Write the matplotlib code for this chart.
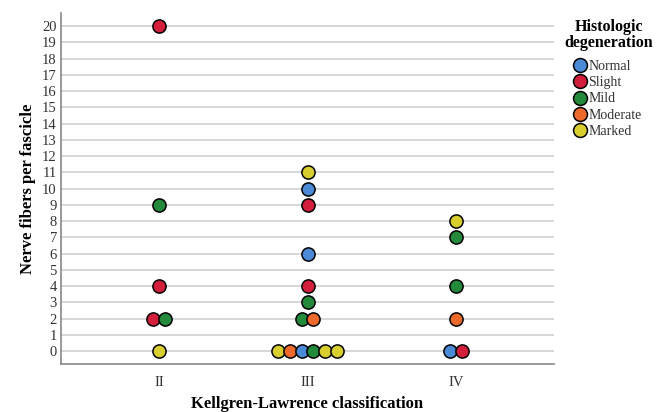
import matplotlib
matplotlib.use("Agg")
from matplotlib import pyplot as plt, ticker
from matplotlib.lines import Line2D

# Data
groups = ["II", "III", "IV"]
categories = ["Normal", "Slight", "Mild", "Moderate", "Marked"]
colors = ["#4a8ad6", "#d41f3c", "#238a3c", "#ee6a2c", "#d8cf2e"]

# one entry per point: group index, value, category index (left to right within a row)
point_group = [0, 0, 0, 0, 0, 0,
               1, 1, 1, 1, 1, 1, 1, 1, 1, 1, 1, 1, 1, 1,
               2, 2, 2, 2, 2, 2]
point_value = [20, 9, 4, 2, 2, 0,
               11, 10, 9, 6, 4, 3, 2, 2, 0, 0, 0, 0, 0, 0,
               8, 7, 4, 2, 0, 0]
point_cat = [1, 2, 1, 1, 2, 4,
             4, 0, 1, 0, 1, 2, 2, 3, 4, 3, 0, 2, 4, 4,
             4, 2, 2, 3, 0, 1]

plt.rcParams['font.family'] = ['Liberation Serif', 'DejaVu Serif']

fig = plt.figure(figsize=(6.66, 4.12), dpi=100)
ax = fig.add_axes([0.0916, 0.1165, 0.832 - 0.0916, 0.968 - 0.1165])

# Dodge points that share a row within a group
step = 0.079
rows = {}
for i, (g, v) in enumerate(zip(point_group, point_value)):
    rows.setdefault((g, v), []).append(i)
xs = [0.0] * len(point_value)
for (g, v), idx in rows.items():
    n = len(idx)
    for k, i in enumerate(idx):
        xs[i] = g + 1 + (k - (n - 1) / 2) * step

for i in range(len(point_value)):
    ax.scatter(xs[i], point_value[i], s=90, color=colors[point_cat[i]],
               edgecolors="black", linewidths=1.1, zorder=3)

ax.set_xlim(0.34, 3.66)
ax.set_ylim(-0.8, 20.8)
ax.set_xticks([1, 2, 3])
ax.set_xticklabels(groups)
ax.yaxis.set_major_locator(ticker.MultipleLocator(1))
ax.grid(True, axis='y', color="#d4d4d4", linewidth=1.3, zorder=0)
ax.set_axisbelow(True)
ax.tick_params(axis='both', length=0, labelsize=10.5, labelcolor="#333333")
ax.tick_params(axis='x', pad=8.5)
ax.tick_params(axis='y', pad=3)
for side in ["top", "right"]:
    ax.spines[side].set_visible(False)
for side in ["left", "bottom"]:
    ax.spines[side].set_color("#888888")
    ax.spines[side].set_linewidth(1.2)

ax.set_xlabel("Kellgren-Lawrence classification", fontsize=12, fontweight="bold", va="center")
ax.xaxis.set_label_coords(0.5, -0.114)
ax.set_ylabel("Nerve fibers per fascicle", fontsize=12, fontweight="bold", va="center")
ax.yaxis.set_label_coords(-0.066, 0.5)

# Legend: title as figure text, entries as a legend without title
fig.text(609 / 666, 1 - 35 / 412, "Histologic\ndegeneration", ha="center", va="center",
         fontsize=11.5, fontweight="bold", linespacing=1.05)
handles = [Line2D([], [], linestyle="none", marker="o", markersize=10,
                  markerfacecolor=c, markeredgecolor="black", markeredgewidth=1.1)
           for c in colors]
leg = fig.legend(handles, categories, loc="upper left",
                 bbox_to_anchor=(0.8585, 1 - 60 / 412), frameon=False,
                 borderpad=0, borderaxespad=0,
                 handletextpad=0.0, handlelength=1.2, labelspacing=0.23, fontsize=10)
for t in leg.get_texts():
    t.set_color("#333333")

fig.savefig("out.png", dpi=100)
